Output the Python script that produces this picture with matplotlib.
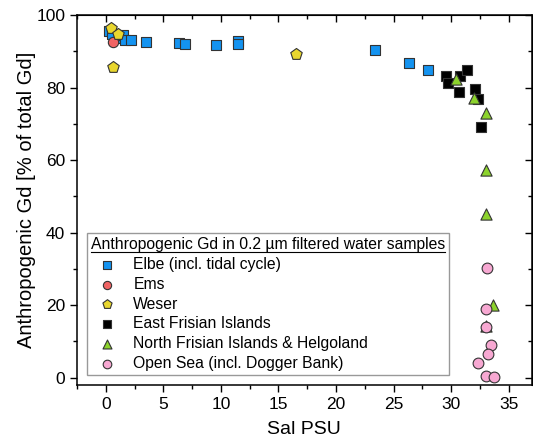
import matplotlib
matplotlib.use('Agg')
import matplotlib.pyplot as plt
from matplotlib.lines import Line2D
from matplotlib.ticker import MultipleLocator

plt.rcParams['font.family'] = ['Liberation Sans', 'DejaVu Sans']

# data (salinity PSU, anthropogenic Gd %)
elbe_x = [0.3, 0.5, 1.2, 1.5, 1.7, 2.2, 3.5, 6.4, 6.9, 9.6, 11.5, 11.5, 23.4, 26.3, 28.0]
elbe_y = [95.5, 94.8, 93.8, 94.5, 93.2, 93.2, 92.7, 92.3, 92.0, 91.8, 92.8, 92.0, 90.4, 86.7, 84.8]
ems_x = [0.66]
ems_y = [92.6]
weser_x = [0.46, 1.1, 0.66, 16.5]
weser_y = [96.4, 94.8, 85.7, 89.4]
efi_x = [29.6, 29.75, 30.8, 31.4, 30.7, 32.1, 32.3, 32.6]
efi_y = [83.2, 81.2, 83.2, 84.8, 78.7, 79.5, 76.9, 69.2]
nfi_x = [30.4, 32.0, 33.0, 33.0, 33.0, 33.6, 33.0]
nfi_y = [82.3, 77.2, 72.9, 57.3, 45.2, 20.1, 14.3]
sea_x = [33.1, 33.0, 33.0, 33.5, 33.2, 32.3, 33.0, 33.7]
sea_y = [30.2, 18.9, 14.1, 9.1, 6.6, 4.0, 0.4, 0.1]

fig = plt.figure(figsize=(5.33, 4.45), dpi=100)
ax = fig.add_axes([0.1445, 0.135, 0.853, 0.831])

ec = '#333333'
ax.scatter(elbe_x, elbe_y, marker='s', s=55, c='#1493F0', edgecolors=ec, linewidths=0.8,
           label='Elbe (incl. tidal cycle)', zorder=3)
ax.scatter(ems_x, ems_y, marker='o', s=55, c='#F06464', edgecolors=ec, linewidths=0.8,
           label='Ems', zorder=3)
ax.scatter(weser_x, weser_y, marker='p', s=75, c='#E8D62E', edgecolors=ec, linewidths=0.8,
           label='Weser', zorder=3)
ax.scatter(efi_x, efi_y, marker='s', s=55, c='black', edgecolors=ec, linewidths=0.8,
           label='East Frisian Islands', zorder=3)
ax.scatter(nfi_x, nfi_y, marker='^', s=65, c='#8CD32C', edgecolors=ec, linewidths=0.8,
           label='North Frisian Islands & Helgoland', zorder=4)
ax.scatter(sea_x, sea_y, marker='o', s=60, c='#F7A8D2', edgecolors=ec, linewidths=0.8,
           label='Open Sea (incl. Dogger Bank)', zorder=5)

ax.set_xlim(-2.5, 37)
ax.set_ylim(-2, 100)
ax.xaxis.set_major_locator(MultipleLocator(5))
ax.xaxis.set_minor_locator(MultipleLocator(2.5))
ax.yaxis.set_major_locator(MultipleLocator(20))
ax.yaxis.set_minor_locator(MultipleLocator(10))
ax.tick_params(which='major', direction='out', length=5, width=1, labelsize=12.5)
ax.tick_params(which='minor', direction='out', length=3, width=1)
for s in ax.spines.values():
    s.set_linewidth(1.1)

# mirrored ticks on top and right, pointing in
top = ax.secondary_xaxis('top')
top.xaxis.set_major_locator(MultipleLocator(5))
top.xaxis.set_minor_locator(MultipleLocator(2.5))
top.tick_params(which='major', direction='in', length=5, width=1, labeltop=False)
top.tick_params(which='minor', direction='in', length=3, width=1)
right = ax.secondary_yaxis('right')
right.yaxis.set_major_locator(MultipleLocator(20))
right.yaxis.set_minor_locator(MultipleLocator(10))
right.tick_params(which='major', direction='in', length=5, width=1, labelright=False)
right.tick_params(which='minor', direction='in', length=3, width=1)

ax.set_xlabel('Sal PSU', fontsize=14, labelpad=7)
ax.set_ylabel('Anthropogenic Gd [% of total Gd]', fontsize=14.5, labelpad=0)

leg = ax.legend(title='Anthropogenic Gd in 0.2 µm filtered water samples',
                loc='lower left', bbox_to_anchor=(0.022, 0.028), fontsize=11.3,
                title_fontsize=11.3, alignment='left', fancybox=False, framealpha=1,
                edgecolor='#999999', borderpad=0.25, labelspacing=0.3,
                handletextpad=0.7, handlelength=2.0, borderaxespad=0,
                scatterpoints=1, markerscale=0.8)
leg.get_frame().set_linewidth(1)

# underline the legend title
fig.canvas.draw()
bb = leg.get_title().get_window_extent().transformed(fig.transFigure.inverted())
fig.add_artist(Line2D([bb.x0, bb.x1], [bb.y0 + 0.002, bb.y0 + 0.002],
                      transform=fig.transFigure, color='black', lw=0.8))

fig.savefig('out.png', dpi=100)
